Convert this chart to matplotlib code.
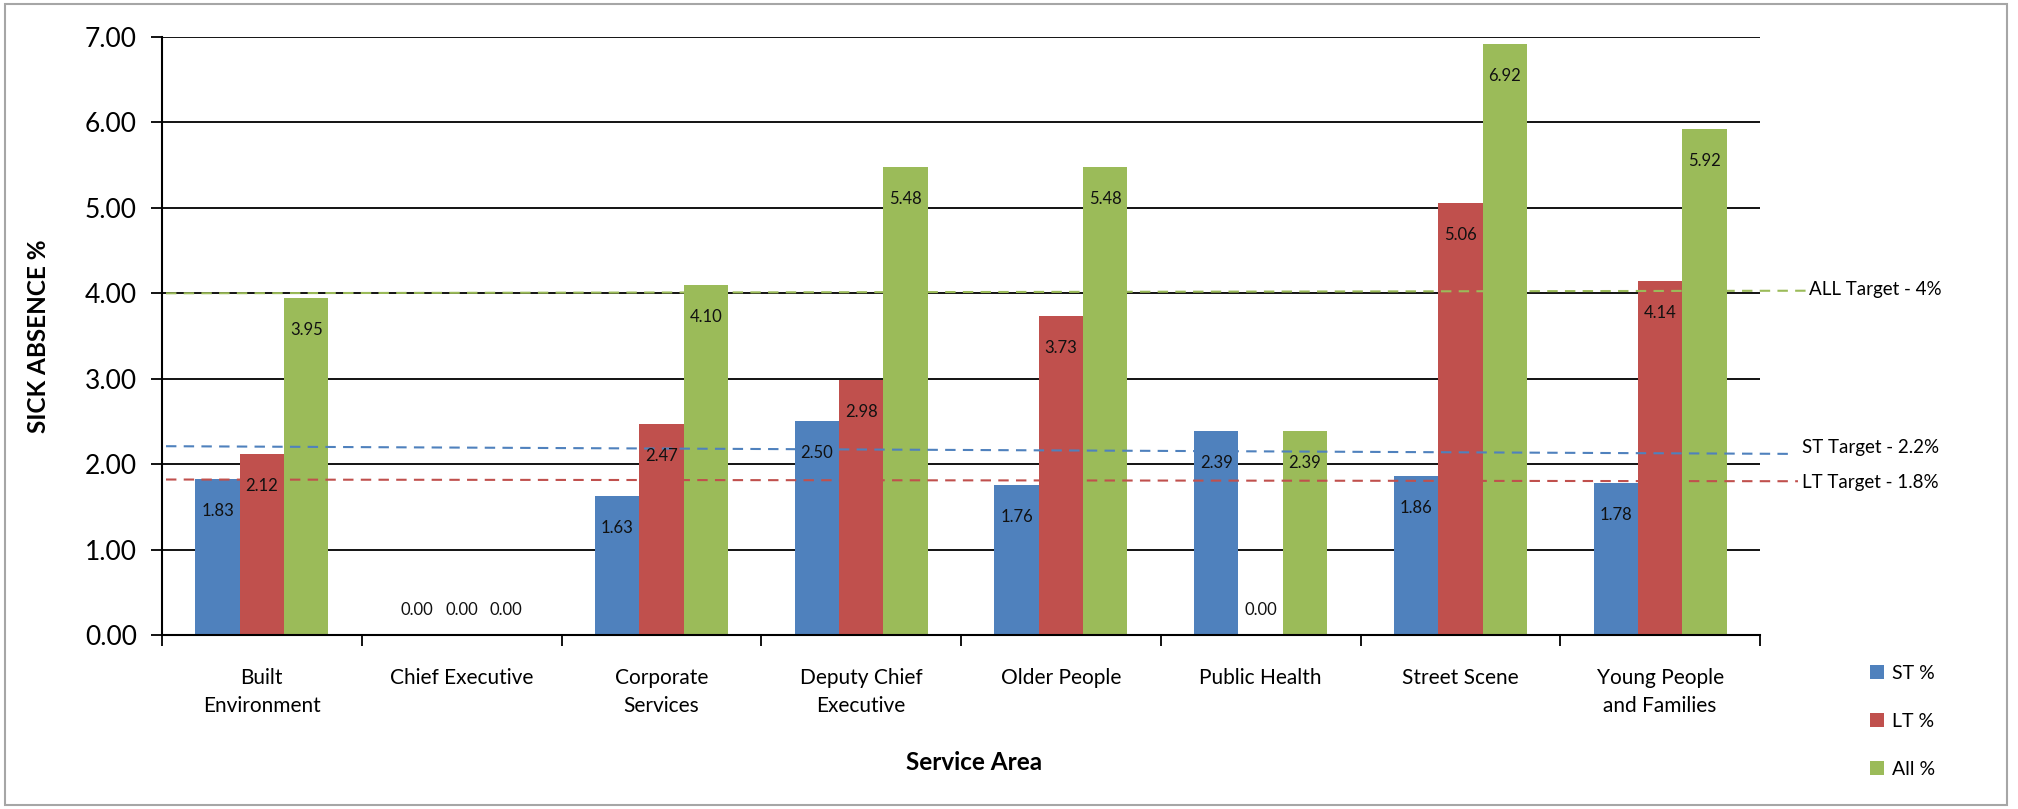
import numpy as np
import matplotlib.pyplot as plt
from matplotlib.patches import Rectangle

plt.rcParams['font.family'] = ['Lato', 'DejaVu Sans']

# data
areas = ['Built\nEnvironment', 'Chief Executive', 'Corporate\nServices',
         'Deputy Chief\nExecutive', 'Older People', 'Public Health',
         'Street Scene', 'Young People\nand Families']
st_pct = [1.83, 0.00, 1.63, 2.50, 1.76, 2.39, 1.86, 1.78]
lt_pct = [2.12, 0.00, 2.47, 2.98, 3.73, 0.00, 5.06, 4.14]
all_pct = [3.95, 0.00, 4.10, 5.48, 5.48, 2.39, 6.92, 5.92]
series_names = ['ST %', 'LT %', 'All %']

# hand drawn target lines (slightly sloped in the original)
target_names = ['ALL Target - 4%', 'ST Target - 2.2%', 'LT Target - 1.8%']
target_start = [4.00, 2.21, 1.82]
target_end = [4.03, 2.12, 1.80]

colors = ['#4F81BD', '#C0504D', '#9BBB59']

W, H = 2018, 809
fig = plt.figure(figsize=(W / 100, H / 100), dpi=100)
ax = fig.add_axes([162 / W, 1 - 635 / H, (1760 - 162) / W, (635 - 37) / H])

x = np.arange(len(areas))
bw = 0.222
px_per_unit = (635 - 37) / 7.0

for k, vals in enumerate([st_pct, lt_pct, all_pct]):
    pos = x + (k - 1) * bw
    ax.bar(pos, vals, width=bw, color=colors[k], label=series_names[k], zorder=2)
    for xp, v in zip(pos, vals):
        if v == 0:
            ax.text(xp, v + 25 / px_per_unit, '%.2f' % v, ha='center', va='center',
                    fontsize=12, color='#111111', zorder=4)
        else:
            ax.text(xp, v - 32 / px_per_unit, '%.2f' % v, ha='center', va='center',
                    fontsize=12, color='#111111', zorder=4)

# targets
t_colors = ['#9BBB59', '#4F81BD', '#C0504D']
x_end = [7.735, 7.665, 7.69]
x_lab = [7.745, 7.71, 7.71]
y_lab_off = [0.02, 0.08, -0.02]
for i in range(3):
    ax.plot([-0.48, x_end[i]], [target_start[i], target_end[i]], color=t_colors[i],
            lw=1.5, dashes=(5, 3.5), clip_on=False, zorder=3)
    ax.text(x_lab[i], target_end[i] + y_lab_off[i], target_names[i], fontsize=13.5,
            ha='left', va='center', clip_on=False)

ax.set_xlim(-0.5, len(areas) - 0.5)
ax.set_ylim(0, 7)
ax.set_yticks(np.arange(0, 7.01, 1))
ax.set_yticklabels(['%.2f' % t for t in np.arange(0, 7.01, 1)], fontsize=19)
ax.set_xticks(np.arange(-0.5, len(areas), 1))
ax.set_xticklabels([])
ax.set_xticks(x, minor=True)
ax.set_xticklabels(areas, minor=True, fontsize=15, linespacing=1.45)
ax.tick_params(axis='x', which='minor', length=0, pad=24)
ax.tick_params(axis='x', which='major', length=8, width=1.3, direction='out')
ax.tick_params(axis='y', length=8, width=1.3, direction='out', pad=10)

ax.grid(axis='y', color='black', lw=1.3, zorder=1)
ax.set_axisbelow(True)
for s in ['top', 'right']:
    ax.spines[s].set_visible(False)
for s in ['left', 'bottom']:
    ax.spines[s].set_linewidth(1.5)
    ax.spines[s].set_zorder(5)

ax.set_ylabel('SICK ABSENCE %', fontsize=17.5, fontweight='bold', labelpad=0)
ax.yaxis.set_label_coords((50 - 162) / (1760 - 162), 0.5)
fig.text(974 / W, 1 - 763 / H, 'Service Area', fontsize=17.5, fontweight='bold',
         ha='center', va='center')

leg = fig.legend(loc='upper left', bbox_to_anchor=(1862 / W, 1 - 657 / H),
                 frameon=False, fontsize=14, handlelength=0.75, handleheight=0.75,
                 handletextpad=0.4, labelspacing=1.6, borderaxespad=0)

fig.add_artist(Rectangle((5 / W, 4 / H), (2007 - 5) / W, (805 - 4) / H,
                         transform=fig.transFigure, fill=False, edgecolor='#A6A6A6', lw=1.5))

fig.savefig('out.png', dpi=100)
